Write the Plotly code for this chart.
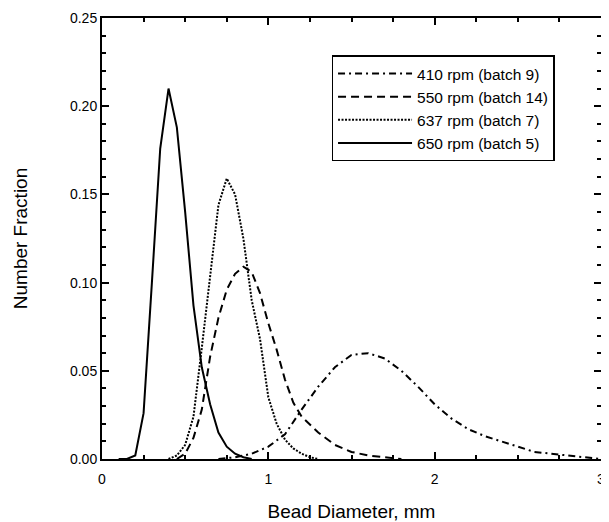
import plotly.graph_objects as go

# 650 rpm (batch 5)
x_650 = [0.10, 0.15, 0.20, 0.25, 0.30, 0.35, 0.40, 0.45, 0.50, 0.55, 0.60,
         0.65, 0.70, 0.75, 0.80, 0.85, 0.90]
y_650 = [0.0, 0.0, 0.002, 0.026, 0.100, 0.176, 0.210, 0.188, 0.140, 0.087,
         0.052, 0.031, 0.015, 0.007, 0.003, 0.001, 0.0]

# 637 rpm (batch 7)
x_637 = [0.40, 0.45, 0.50, 0.55, 0.60, 0.65, 0.70, 0.75, 0.80, 0.85, 0.90,
         0.95, 1.00, 1.05, 1.10, 1.15, 1.20, 1.25, 1.30]
y_637 = [0.0, 0.002, 0.008, 0.024, 0.063, 0.105, 0.144, 0.159, 0.150, 0.125,
         0.090, 0.068, 0.035, 0.020, 0.011, 0.006, 0.003, 0.001, 0.0]

# 550 rpm (batch 14)
x_550 = [0.45, 0.50, 0.55, 0.60, 0.65, 0.70, 0.75, 0.80, 0.85, 0.90, 0.95,
         1.00, 1.05, 1.10, 1.15, 1.20, 1.30, 1.40, 1.50, 1.60, 1.70, 1.80]
y_550 = [0.0, 0.003, 0.012, 0.028, 0.058, 0.080, 0.096, 0.105, 0.109, 0.106,
         0.094, 0.077, 0.062, 0.045, 0.032, 0.024, 0.015, 0.008, 0.004, 0.002,
         0.001, 0.0]

# 410 rpm (batch 9)
x_410 = [0.7, 0.8, 0.9, 1.0, 1.1, 1.2, 1.3, 1.4, 1.5, 1.6, 1.7, 1.8, 1.9,
         2.0, 2.1, 2.2, 2.3, 2.4, 2.5, 2.6, 2.7, 2.8, 2.9, 3.0]
y_410 = [0.0, 0.001, 0.003, 0.007, 0.014, 0.028, 0.041, 0.052, 0.059, 0.060,
         0.057, 0.050, 0.041, 0.031, 0.023, 0.017, 0.013, 0.010, 0.007, 0.004,
         0.003, 0.002, 0.001, 0.0]

series = [
    ('410 rpm (batch 9)', x_410, y_410, '7px,4px,2px,4px'),
    ('550 rpm (batch 14)', x_550, y_550, '8px,5px'),
    ('637 rpm (batch 7)', x_637, y_637, '2px,1.5px'),
    ('650 rpm (batch 5)', x_650, y_650, 'solid'),
]

fig = go.Figure()
for name, xs, ys, dash in series:
    fig.add_trace(go.Scatter(
        x=xs, y=ys, mode='lines', name=name,
        line=dict(color='black', width=2, dash=dash)
    ))

axis_common = dict(
    showline=True, linecolor='black', linewidth=2, mirror='ticks',
    ticks='inside', tickcolor='black', tickwidth=1.5, ticklen=7,
    showgrid=False, zeroline=False, automargin=False,
    tickfont=dict(size=14, color='black'), ticklabeloverflow='allow',
)

fig.update_xaxes(
    range=[0, 3], dtick=1, tick0=0, ticklabelstandoff=6,
    minor=dict(dtick=0.25, ticks='inside', ticklen=4, tickcolor='black', tickwidth=1.5),
    title=dict(text='Bead Diameter, mm', font=dict(size=19, color='black'), standoff=20),
    **axis_common
)
fig.update_yaxes(
    range=[0, 0.25], dtick=0.05, tick0=0, tickformat='.2f',
    minor=dict(dtick=0.01, ticks='inside', ticklen=4, tickcolor='black', tickwidth=1.5),
    title=dict(text='Number Fraction', font=dict(size=19, color='black'), standoff=37),
    **axis_common
)

# page body adds an 8px offset, so the figure is 8px smaller than the window
fig.update_layout(
    width=601, height=514,
    margin=dict(l=94, r=8, t=10, b=63),
    paper_bgcolor='white', plot_bgcolor='white',
    font=dict(family='Liberation Sans, Arial, sans-serif', color='black'),
    showlegend=True,
    legend=dict(
        x=0.46, y=0.915, xanchor='left', yanchor='top',
        bordercolor='black', borderwidth=1.5, bgcolor='white',
        font=dict(size=15.5, color='black'),
        tracegroupgap=0, itemwidth=74,
    ),
)

fig.write_html("out.html")
